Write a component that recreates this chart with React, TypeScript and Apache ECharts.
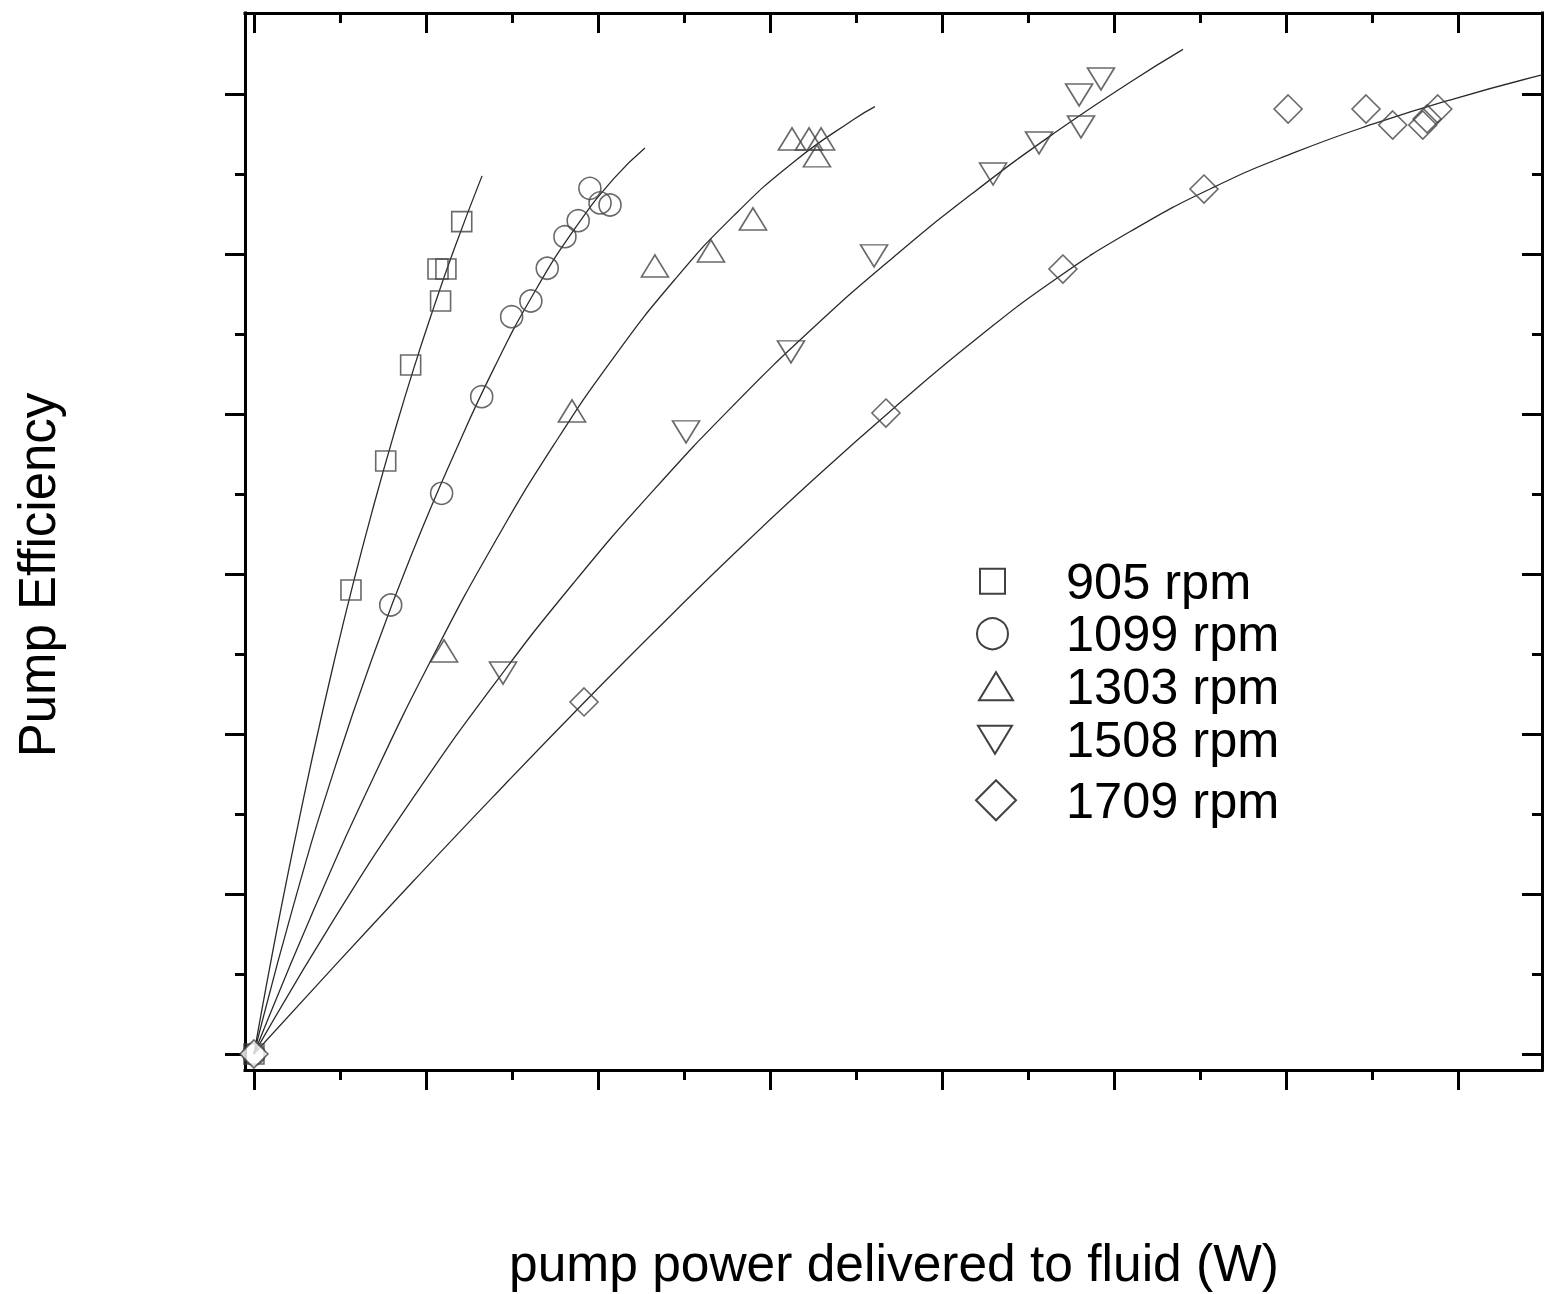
import React, { useEffect, useRef } from 'react';
import * as echarts from 'echarts';

// ---------- data (x: pump power, y: efficiency) ----------
const seriesNames = ['905 rpm', '1099 rpm', '1303 rpm', '1508 rpm', '1709 rpm'];

const pts905 = [[0, 0], [5.64, 29.0], [7.66, 37.06], [9.11, 43.06], [10.85, 47.06], [10.70, 49.06], [11.16, 49.06], [12.08, 52.02]];
const pts1099 = [[0, 0], [7.95, 28.06], [10.91, 35.04], [13.24, 41.08], [14.98, 46.08], [16.10, 47.06], [17.05, 49.11], [18.08, 51.08], [18.85, 52.08], [19.53, 54.1], [20.12, 53.19], [20.70, 53.06]];
const pts1303 = [[11.05, 25.19], [18.49, 40.19], [23.31, 49.25], [26.57, 50.19], [29.01, 52.19], [31.28, 57.19], [32.27, 57.19], [32.97, 57.19], [32.73, 56.13]];
const pts1508 = [[14.48, 23.81], [25.12, 38.88], [31.22, 43.88], [36.05, 49.88], [42.97, 55.0], [45.64, 56.94], [48.08, 57.94], [47.97, 59.94], [49.24, 60.94]];
const pts1709 = [[0, 0], [19.19, 22.0], [36.74, 40.06], [47.03, 49.06], [55.23, 54.06], [60.12, 59.06], [64.65, 59.06], [66.20, 58.06], [67.95, 58.06], [68.20, 58.44], [68.82, 59.06]];

const fit905 = [[0, 0], [1.16, 6.79], [2.33, 13.11], [3.49, 19.0], [4.65, 24.48], [5.81, 29.58], [6.98, 34.34], [8.14, 38.76], [9.30, 42.88], [10.47, 46.71], [11.63, 50.28], [13.26, 54.88]];
const fit1099 = [[0, 0], [2.33, 9.41], [4.65, 17.71], [6.98, 25.05], [9.30, 31.58], [11.63, 37.47], [13.95, 42.85], [16.28, 47.56], [18.60, 51.5], [20.93, 54.72], [22.73, 56.63]];
const fit1303 = [[0, 0], [3.49, 9.04], [6.98, 17.36], [10.47, 24.98], [13.95, 31.89], [17.44, 38.08], [20.93, 43.56], [24.42, 48.34], [27.91, 52.41], [31.40, 55.77], [34.88, 58.42], [36.10, 59.21]];
const fit1508 = [[0, 0], [4.65, 8.41], [9.30, 16.08], [13.95, 23.08], [18.60, 29.46], [23.26, 35.27], [27.91, 40.58], [32.56, 45.43], [37.21, 49.83], [41.86, 53.86], [46.51, 57.54], [51.16, 60.89], [54.01, 62.79]];
const fit1709 = [[0, 0], [4.65, 5.46], [9.30, 10.84], [13.95, 16.13], [18.60, 21.31], [23.26, 26.37], [27.91, 31.26], [32.56, 35.94], [37.21, 40.38], [41.86, 44.57], [46.51, 48.36], [51.16, 51.54], [55.81, 54.18], [60.47, 56.33], [65.12, 58.14], [69.77, 59.70], [74.88, 61.19]];

const majorX = [0, 10, 20, 30, 40, 50, 60, 70];
const minorX = [5, 15, 25, 35, 45, 55, 65];
const majorY = [0, 10, 20, 30, 40, 50, 60];
const minorY = [5, 15, 25, 35, 45, 55];

// ---------- styling ----------
const FONT = '"Liberation Sans", Arial, Helvetica, sans-serif';
const X_MIN = -0.52;
const X_MAX = 74.88;
const Y_MIN = -1.0;
const Y_MAX = 65.06;

const SQUARE = 'path://M0,0H10V10H0Z';
const TRI_UP = 'path://M0,28L17,0L34,28Z';
const TRI_DOWN = 'path://M0,0L34,0L17,28Z';
const DIAMOND = 'path://M5,0L10,5L5,10L0,5Z';

const symbols = [SQUARE, 'circle', TRI_UP, TRI_DOWN, DIAMOND];
const symbolSizes: any[] = [[20, 20], 22, [27, 22], [27, 22], [28, 28]];
const pointSets = [pts905, pts1099, pts1303, pts1508, pts1709];
const fitSets = [fit905, fit1099, fit1303, fit1508, fit1709];

function xAxisDef(position: string, values: number[], len: number, inside: boolean, showLine: boolean) {
  return {
    type: 'value',
    position,
    min: X_MIN,
    max: X_MAX,
    axisLine: { show: showLine, onZero: false, lineStyle: { color: '#000', width: 3, cap: 'square' } },
    axisTick: { show: true, inside, length: len, customValues: values, lineStyle: { color: '#000', width: 3 } },
    axisLabel: { show: false },
    splitLine: { show: false },
  };
}
function yAxisDef(position: string, values: number[], len: number, inside: boolean, showLine: boolean) {
  return {
    type: 'value',
    position,
    min: Y_MIN,
    max: Y_MAX,
    axisLine: { show: showLine, onZero: false, lineStyle: { color: '#000', width: 3, cap: 'square' } },
    axisTick: { show: true, inside, length: len, customValues: values, lineStyle: { color: '#000', width: 3 } },
    axisLabel: { show: false },
    splitLine: { show: false },
  };
}

// legend rows: icon centre x, centre y, icon height, drawn icon width
const legendRows = [
  { cx: 991.5, cy: 581, h: 25, iw: 25 },
  { cx: 991.5, cy: 633.5, h: 31, iw: 31 },
  { cx: 995, cy: 686, h: 28, iw: 34 },
  { cx: 994, cy: 739.5, h: 28, iw: 34 },
  { cx: 995, cy: 800, h: 40, iw: 40 },
];
const TEXT_START = 1065;
const LEGEND_FONT = 50.5;

export default function App() {
  const ref = useRef<HTMLDivElement>(null);

  useEffect(() => {
    if (!ref.current) return;
    const chart = echarts.init(ref.current, undefined, { renderer: 'svg' });

    const lineSeries = fitSets.map((d, i) => ({
      type: 'line',
      name: seriesNames[i] + ' fit',
      data: d,
      smooth: 0.5,
      showSymbol: false,
      silent: true,
      lineStyle: { color: '#2a2a2a', width: 1.3 },
      z: 1,
    }));
    const scatterSeries = pointSets.map((d, i) => ({
      type: 'scatter',
      name: seriesNames[i],
      data: d.map((p) =>
        p[0] === 0 && p[1] === 0 && i === 4 ? { value: p, itemStyle: { color: '#fff' } } : p
      ),
      symbol: symbols[i],
      symbolSize: symbolSizes[i],
      itemStyle: { color: 'transparent', borderColor: '#444', borderWidth: 1.6 },
      z: 2,
    }));

    const legends = legendRows.map((r, i) => {
      const w = 2 * (TEXT_START - 5 - r.cx);
      return {
        data: [{ name: seriesNames[i], icon: symbols[i] }],
        left: r.cx - r.iw / 2,
        top: r.cy - LEGEND_FONT / 2,
        padding: 0,
        itemWidth: w,
        itemHeight: r.h,
        selectedMode: false,
        symbolKeepAspect: true,
        itemStyle: { color: 'transparent', borderColor: '#111', borderWidth: 2 },
        textStyle: { fontSize: LEGEND_FONT, fontFamily: FONT, color: '#000' },
      };
    });

    chart.setOption({
      animation: false,
      backgroundColor: '#fff',
      grid: { left: 245, right: 4, top: 13, bottom: 224, containLabel: false, outerBoundsMode: 'none' },
      xAxis: [
        xAxisDef('bottom', majorX, 20, false, true),
        xAxisDef('bottom', minorX, 10, false, false),
        xAxisDef('top', majorX, 20, true, true),
        xAxisDef('top', minorX, 10, true, false),
      ],
      yAxis: [
        yAxisDef('left', majorY, 20, false, true),
        yAxisDef('left', minorY, 10, false, false),
        yAxisDef('right', majorY, 20, true, true),
        yAxisDef('right', minorY, 10, true, false),
      ],
      legend: legends,
      graphic: [
        {
          type: 'text',
          x: 37,
          y: 575,
          rotation: Math.PI / 2,
          style: { text: 'Pump Efficiency', fontSize: 51, fontFamily: FONT, fill: '#000', align: 'center', verticalAlign: 'middle' },
        },
        {
          type: 'text',
          x: 894,
          y: 1263,
          style: { text: 'pump power delivered to fluid (W)', fontSize: 51.5, fontFamily: FONT, fill: '#000', align: 'center', verticalAlign: 'middle' },
        },
      ],
      series: [...lineSeries, ...scatterSeries],
    });

    return () => chart.dispose();
  }, []);

  return <div ref={ref} style={{ position: 'fixed', left: 0, top: 0, width: 1546, height: 1294, background: '#fff' }} />;
}
